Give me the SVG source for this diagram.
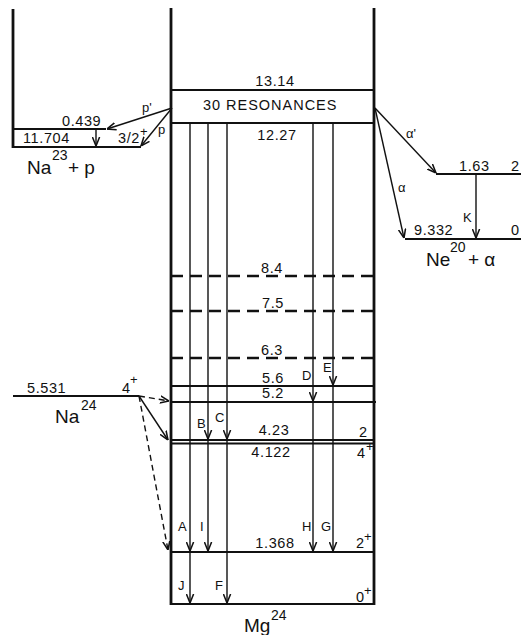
<svg xmlns="http://www.w3.org/2000/svg" width="521" height="635" viewBox="0 0 521 635">
<style>
text{font-family:"Liberation Sans",Arial,sans-serif;fill:#111}
.n{font-size:14.5px;letter-spacing:0.6px}
.c{text-anchor:middle}
.l{font-size:13px}
.big{font-size:19px}
.sup{font-size:14px}
.frame{stroke:#111;stroke-width:2.8;fill:none}
.lev{stroke:#111;stroke-width:2.2;fill:none}
.dash{stroke:#111;stroke-width:2.4;fill:none;stroke-dasharray:12 7}
.arr{stroke:#111;stroke-width:1.4;fill:none;marker-end:url(#ah)}
.darr{stroke:#111;stroke-width:1.4;fill:none;stroke-dasharray:6 4;marker-end:url(#ah)}
</style>
<defs>
<marker id="ah" viewBox="0 0 10 10" refX="10" refY="5" markerWidth="9" markerHeight="9" markerUnits="userSpaceOnUse" orient="auto">
<path d="M0,1 L10,5 L0,9" fill="none" stroke="#111" stroke-width="1.7"/>
</marker>
</defs>
<rect width="521" height="635" fill="#fff"/>

<g id="mg24">
<line class="frame" x1="171" y1="8" x2="171" y2="605"/>
<line class="frame" x1="374" y1="8" x2="374" y2="605"/>
<line class="lev" x1="171" y1="90" x2="374" y2="90"/>
<line class="lev" x1="171" y1="123" x2="374" y2="123"/>
<text class="n c" x="275" y="86">13.14</text>
<text class="n c" x="270" y="110" textLength="134" lengthAdjust="spacing">30 RESONANCES</text>
<text class="n c" x="277" y="140">12.27</text>
<line class="dash" x1="171" y1="276" x2="374" y2="276"/>
<text class="n c" x="272" y="273">8.4</text>
<line class="dash" x1="171" y1="311" x2="374" y2="311"/>
<text class="n c" x="273" y="308">7.5</text>
<line class="dash" x1="171" y1="358" x2="374" y2="358"/>
<text class="n c" x="272" y="355">6.3</text>
<line class="lev" x1="171" y1="386" x2="374" y2="386"/>
<text class="n c" x="273" y="383">5.6</text>
<line class="lev" x1="171" y1="402" x2="376" y2="402"/>
<text class="n c" x="273" y="398">5.2</text>
<line class="lev" x1="171" y1="440" x2="374" y2="440"/>
<line class="lev" x1="171" y1="443.5" x2="374" y2="443.5"/>
<text class="n c" x="274" y="435">4.23</text>
<text class="n" x="359" y="437">2</text>
<text class="n c" x="271" y="457">4.122</text>
<text class="n" x="357" y="458">4</text><text class="l" x="366" y="451">+</text>
<line class="lev" x1="171" y1="552" x2="374" y2="552"/>
<text class="n c" x="275" y="548">1.368</text>
<text class="n" x="356" y="548">2</text><text class="l" x="364" y="541">+</text>
<line class="lev" x1="171" y1="604" x2="374" y2="604"/>
<text class="n" x="356" y="602">0</text><text class="l" x="364" y="595">+</text>
<text class="big" x="244" y="632">Mg</text><text class="sup" x="271" y="620">24</text>
</g>

<g id="na23p">
<line class="frame" x1="13" y1="9" x2="13" y2="148"/>
<line class="lev" x1="12" y1="129" x2="106" y2="129"/>
<line class="lev" x1="12" y1="147" x2="141" y2="147"/>
<text class="n" x="62" y="126">0.439</text>
<text class="n" x="23" y="143">11.704</text>
<text class="n" x="118" y="143">3/2</text><text class="l" x="140" y="136">+</text>
<text class="big" x="27" y="174">Na</text><text class="sup" x="52" y="160">23</text>
<text class="big" x="68" y="174">+ p</text>
</g>

<g id="ne20a">
<line class="lev" x1="436" y1="174" x2="521" y2="174"/>
<line class="lev" x1="405" y1="239" x2="521" y2="239"/>
<text class="n" x="459" y="171">1.63</text>
<text class="n" x="511" y="171">2</text>
<text class="n" x="414" y="235">9.332</text>
<text class="n" x="511" y="235">0</text>
<text class="big" x="426" y="266">Ne</text><text class="sup" x="450" y="252">20</text>
<text class="big" x="468" y="266">+ α</text>
</g>

<g id="na24">
<line class="lev" x1="13" y1="396" x2="139" y2="396"/>
<text class="n" x="27" y="393">5.531</text>
<text class="n" x="122" y="393">4</text><text class="l" x="130" y="384">+</text>
<text class="big" x="55" y="423">Na</text><text class="sup" x="81" y="410">24</text>
</g>

<g id="connectors">
<line class="arr" x1="172" y1="108" x2="107" y2="129"/>
<line class="arr" x1="172" y1="108" x2="141" y2="146"/>
<line class="arr" x1="96" y1="129" x2="96" y2="146"/>
<text class="l" x="142" y="112">p'</text>
<text class="l" x="158" y="134">p</text>
<line class="arr" x1="375" y1="108" x2="436" y2="173"/>
<line class="arr" x1="375" y1="108" x2="404" y2="238"/>
<line class="arr" x1="476" y1="174" x2="476" y2="238"/>
<text class="l" x="406" y="138">α'</text>
<text class="l" x="398" y="192">α</text>
<text class="l" x="463" y="222">K</text>
<line class="arr" x1="190" y1="123" x2="190" y2="551"/>
<line class="arr" x1="190" y1="552" x2="190" y2="603"/>
<line class="arr" x1="208" y1="123" x2="208" y2="439"/>
<line class="arr" x1="208" y1="440" x2="208" y2="551"/>
<line class="arr" x1="227" y1="123" x2="227" y2="439"/>
<line class="arr" x1="227" y1="440" x2="227" y2="603"/>
<line class="arr" x1="313" y1="123" x2="313" y2="401"/>
<line class="arr" x1="313" y1="402" x2="313" y2="551"/>
<line class="arr" x1="333" y1="123" x2="333" y2="385"/>
<line class="arr" x1="333" y1="386" x2="333" y2="551"/>
<text class="l" x="178" y="531">A</text>
<text class="l" x="200" y="531">I</text>
<text class="l" x="302" y="531">H</text>
<text class="l" x="321" y="531">G</text>
<text class="l" x="178" y="590">J</text>
<text class="l" x="215" y="590">F</text>
<text class="l" x="197" y="428">B</text>
<text class="l" x="215" y="422">C</text>
<text class="l" x="302" y="380">D</text>
<text class="l" x="323" y="372">E</text>
<line class="darr" x1="139" y1="396" x2="169" y2="401"/>
<line class="arr" x1="139" y1="396" x2="168" y2="440"/>
<line class="darr" x1="139" y1="396" x2="168" y2="550"/>
</g>
</svg>
